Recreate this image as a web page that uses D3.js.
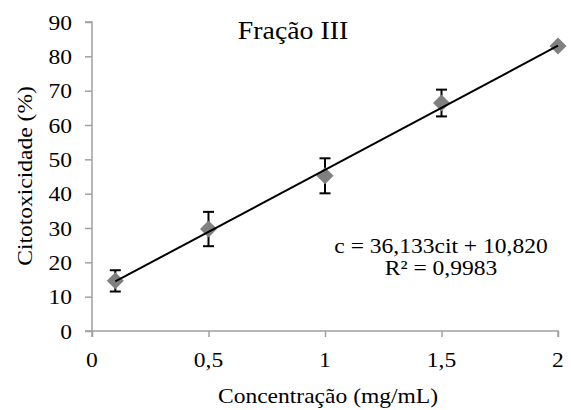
<!DOCTYPE html>
<html><head><meta charset="utf-8">
<script src="https://cdn.jsdelivr.net/npm/d3@7"></script>
<style>html,body{margin:0;padding:0;background:#fff;}svg{display:block;}</style>
</head><body>
<script>
const concentrations = [0.1, 0.5, 1, 1.5, 2];
const cytotoxicity = [14.6, 29.7, 45.2, 66.4, 83.0];
const errors = [3.1, 5.0, 5.1, 3.9, 0];
const xTicks = [0, 0.5, 1, 1.5, 2];
const xTickLabels = ["0", "0,5", "1", "1,5", "2"];
const yTicks = [0, 10, 20, 30, 40, 50, 60, 70, 80, 90];
const slope = 36.133, intercept = 10.820;
const titleText = "Fração III";
const xTitle = "Concentração (mg/mL)";
const yTitle = "Citotoxicidade (%)";
const eqLines = ["c = 36,133cit + 10,820", "R² = 0,9983"];

const W = 571, H = 410;
const svg = d3.select("body").append("svg").attr("width", W).attr("height", H);
const font = "'Liberation Serif','Times New Roman',serif";
const sx = 1.07;

const x = d3.scaleLinear().domain([0, 2]).range([92, 558]);
const y = d3.scaleLinear().domain([0, 90]).range([331, 22]);

function txt(px, py, s, size, anchor, rot) {
  const g = svg.append("g").attr("transform", `translate(${px},${py}) rotate(${rot||0}) scale(${sx},1)`);
  g.append("text").attr("text-anchor", anchor).attr("font-family", font)
    .attr("font-size", size).attr("fill", "#000").text(s);
  return g;
}

// axes
const axisColor = "#a0a0a0";
const xAxis = d3.axisBottom(x).tickValues(xTicks).tickSize(6).tickFormat(() => "");
const yAxis = d3.axisLeft(y).tickValues(yTicks).tickSize(7).tickFormat(() => "");
const gx = svg.append("g").attr("transform", `translate(0,${y(0)})`).call(xAxis);
const gy = svg.append("g").attr("transform", `translate(${x(0)},0)`).call(yAxis);
[gx, gy].forEach(g => {
  g.selectAll("path").attr("stroke", axisColor).attr("stroke-width", 1.5);
  g.selectAll("line").attr("stroke", axisColor).attr("stroke-width", 1.5);
});
gx.select("path").attr("d", `M${x(0)},6V0H${x(2)}V6`);
gy.select("path").attr("d", `M-7,${y(90)}H0V${y(0)}H-7`);

// tick labels
yTicks.forEach(t => txt(72, y(t) + 7.5, String(t), 22, "end"));
xTicks.forEach((t, i) => txt(x(t), 366.5, xTickLabels[i], 22, "middle"));

// error bars
const eb = svg.append("g").attr("stroke", "#000").attr("stroke-width", 2);
concentrations.forEach((c, i) => {
  if (!errors[i]) return;
  const cx = x(c), top = y(cytotoxicity[i] + errors[i]), bot = y(cytotoxicity[i] - errors[i]);
  eb.append("line").attr("x1", cx).attr("x2", cx).attr("y1", top).attr("y2", bot);
  eb.append("line").attr("x1", cx - 5.5).attr("x2", cx + 5.5).attr("y1", top).attr("y2", top);
  eb.append("line").attr("x1", cx - 5.5).attr("x2", cx + 5.5).attr("y1", bot).attr("y2", bot);
});

// markers
svg.append("g").selectAll("path").data(concentrations).join("path")
  .attr("transform", (d, i) => `translate(${x(d)},${y(cytotoxicity[i])})`)
  .attr("d", "M0,-8.5L8.5,0L0,8.5L-8.5,0Z")
  .attr("fill", "#808080");

// trendline
const xs = [concentrations[0], concentrations[concentrations.length - 1]];
svg.append("line")
  .attr("x1", x(xs[0])).attr("y1", y(slope * xs[0] + intercept))
  .attr("x2", x(xs[1])).attr("y2", y(slope * xs[1] + intercept))
  .attr("stroke", "#000").attr("stroke-width", 2);

// texts
txt(293, 39.3, titleText, 26, "middle");
txt(441, 253.3, eqLines[0], 22, "middle");
txt(441, 275, eqLines[1], 22, "middle");
txt(328, 403, xTitle, 22, "middle");
txt(31.5, 176, yTitle, 22, "middle", -90);
</script>
</body></html>
